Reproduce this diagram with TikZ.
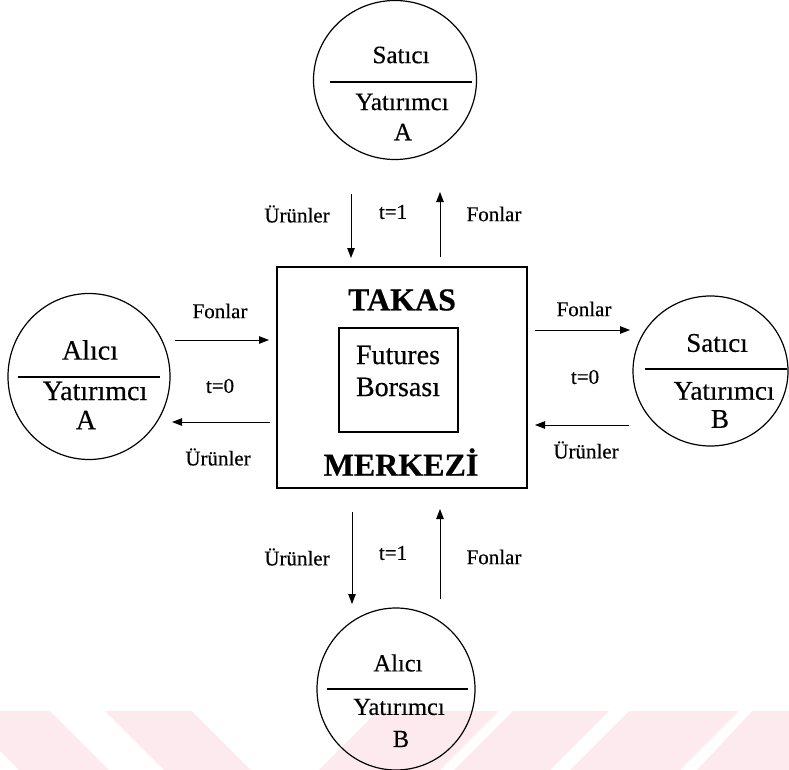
\documentclass[tikz,border=0pt]{standalone}
\usepackage{fontspec}
\setmainfont[FakeBold=0.4]{Liberation Serif}
\usetikzlibrary{arrows.meta,shapes.geometric}
\definecolor{wmpink}{RGB}{253,234,238}
\tikzset{
  party/.style={draw,ellipse,line width=1.2pt,inner sep=0pt},
  btext/.style={font=\fontsize{28}{30}\selectfont,inner sep=0pt},
  flowlbl/.style={font=\fontsize{21}{23}\selectfont,inner sep=0pt},
  flow/.style={line width=1pt,-{Triangle[length=10pt,width=7.5pt]}},
}
\newcommand{\ptsize}[1]{\fontsize{#1}{#1}\selectfont}

\begin{document}
\begin{tikzpicture}[x=1pt,y=-1pt]
\useasboundingbox (0,0) rectangle (789,770);

% watermark stripes
\fill[wmpink] (-40,711)--(50,711)--(109,770)--(19,770)--cycle;
\fill[wmpink] (105,711)--(192,711)--(251,770)--(164,770)--cycle;
\fill[wmpink] (378,711)--(499,711)--(440,770)--(319,770)--cycle;
\fill[wmpink] (513,711)--(609,711)--(550,770)--(454,770)--cycle;
\fill[wmpink] (629,711)--(739,711)--(680,770)--(570,770)--cycle;
\fill[wmpink] (752,711)--(860,711)--(801,770)--(697,770)--cycle;

% clearing house
\node[draw,line width=1.2pt,minimum width=250pt,minimum height=221pt] (takas) at (402,377.5) {};
\node[draw,line width=1.1pt,minimum width=119pt,minimum height=104pt] (borsa) at (398.5,380) {};
\node[font=\bfseries\fontsize{32}{34}\selectfont,inner sep=0pt] (takasT) at (402,300) {TAKAS};
\node[font=\bfseries\fontsize{32}{34}\selectfont,inner sep=0pt] (merkez) at (401,462) {MERKEZİ};
\node[btext] (fut) at (398,355) {Futures};
\node[btext] (bors) at (398,387) {Borsası};

% investors
\node[party,minimum width=163pt,minimum height=159pt] (saticiA) at (395,80) {};
\node[party,minimum width=162pt,minimum height=166pt] (aliciA) at (89,376.5) {};
\node[party,minimum width=155pt,minimum height=150pt] (saticiB) at (710.5,371) {};
\node[party,minimum width=158pt,minimum height=162pt] (aliciB) at (396,689) {};

\draw[line width=1.2pt] (330,82)--(472,82);
\draw[line width=1.2pt] (18,377)--(160,377);
\draw[line width=1.2pt] (645,369)--(787,369);
\draw[line width=1.2pt] (327,689)--(468,689);

\node[inner sep=0pt,font=\ptsize{25}] (saticiA1) at (401,55) {Satıcı};
\node[inner sep=0pt,font=\ptsize{25}] (saticiA2) at (402,102) {Yatırımcı};
\node[inner sep=0pt,font=\ptsize{25}] (saticiA3) at (403,132) {A};
\node[inner sep=0pt,font=\ptsize{28}] (aliciA1) at (90,350) {Alıcı};
\node[inner sep=0pt,font=\ptsize{28}] (aliciA2) at (95,391) {Yatırımcı};
\node[inner sep=0pt,font=\ptsize{28}] (aliciA3) at (86,420) {A};
\node[inner sep=0pt,font=\ptsize{27}] (saticiB1) at (717,343) {Satıcı};
\node[inner sep=0pt,font=\ptsize{27}] (saticiB2) at (724,391) {Yatırımcı};
\node[inner sep=0pt,font=\ptsize{27}] (saticiB3) at (720,419) {B};
\node[inner sep=0pt,font=\ptsize{24.5}] (aliciB1) at (398,663) {Alıcı};
\node[inner sep=0pt,font=\ptsize{24.5}] (aliciB2) at (399,707) {Yatırımcı};
\node[inner sep=0pt,font=\ptsize{24.5}] (aliciB3) at (401,739) {B};

% arrow ends
\coordinate (topUrunS) at (351,194);
\coordinate (topUrunE) at (351,258);
\coordinate (topFonS) at (440,257);
\coordinate (topFonE) at (440,192);
\coordinate (leftFonS) at (175,340);
\coordinate (leftFonE) at (269,340);
\coordinate (leftUrunS) at (270,422);
\coordinate (leftUrunE) at (172,422);
\coordinate (rightFonS) at (535,330);
\coordinate (rightFonE) at (630,330);
\coordinate (rightUrunS) at (629,425);
\coordinate (rightUrunE) at (535,425);
\coordinate (botUrunS) at (352,512);
\coordinate (botUrunE) at (352,604);
\coordinate (botFonS) at (440,599);
\coordinate (botFonE) at (440,509);

\draw[flow] (topUrunS)--(topUrunE);
\draw[flow] (topFonS)--(topFonE);
\draw[flow] (leftFonS)--(leftFonE);
\draw[flow] (leftUrunS)--(leftUrunE);
\draw[flow] (rightFonS)--(rightFonE);
\draw[flow] (rightUrunS)--(rightUrunE);
\draw[flow] (botUrunS)--(botUrunE);
\draw[flow] (botFonS)--(botFonE);

% flow labels
\node[flowlbl] (lblTU) at (297,214) {Ürünler};
\node[flowlbl] (lblTt) at (393,212) {t=1};
\node[flowlbl] (lblTF) at (494,214) {Fonlar};
\node[flowlbl] (lblLF) at (220,311) {Fonlar};
\node[flowlbl] (lblLt) at (220,386) {t=0};
\node[flowlbl] (lblLU) at (218,457) {Ürünler};
\node[flowlbl] (lblRF) at (584,309) {Fonlar};
\node[flowlbl] (lblRt) at (585,377) {t=0};
\node[flowlbl] (lblRU) at (586,450) {Ürünler};
\node[flowlbl] (lblBU) at (297,557) {Ürünler};
\node[flowlbl] (lblBt) at (393,553) {t=1};
\node[flowlbl] (lblBF) at (494,557) {Fonlar};
\end{tikzpicture}
\end{document}
